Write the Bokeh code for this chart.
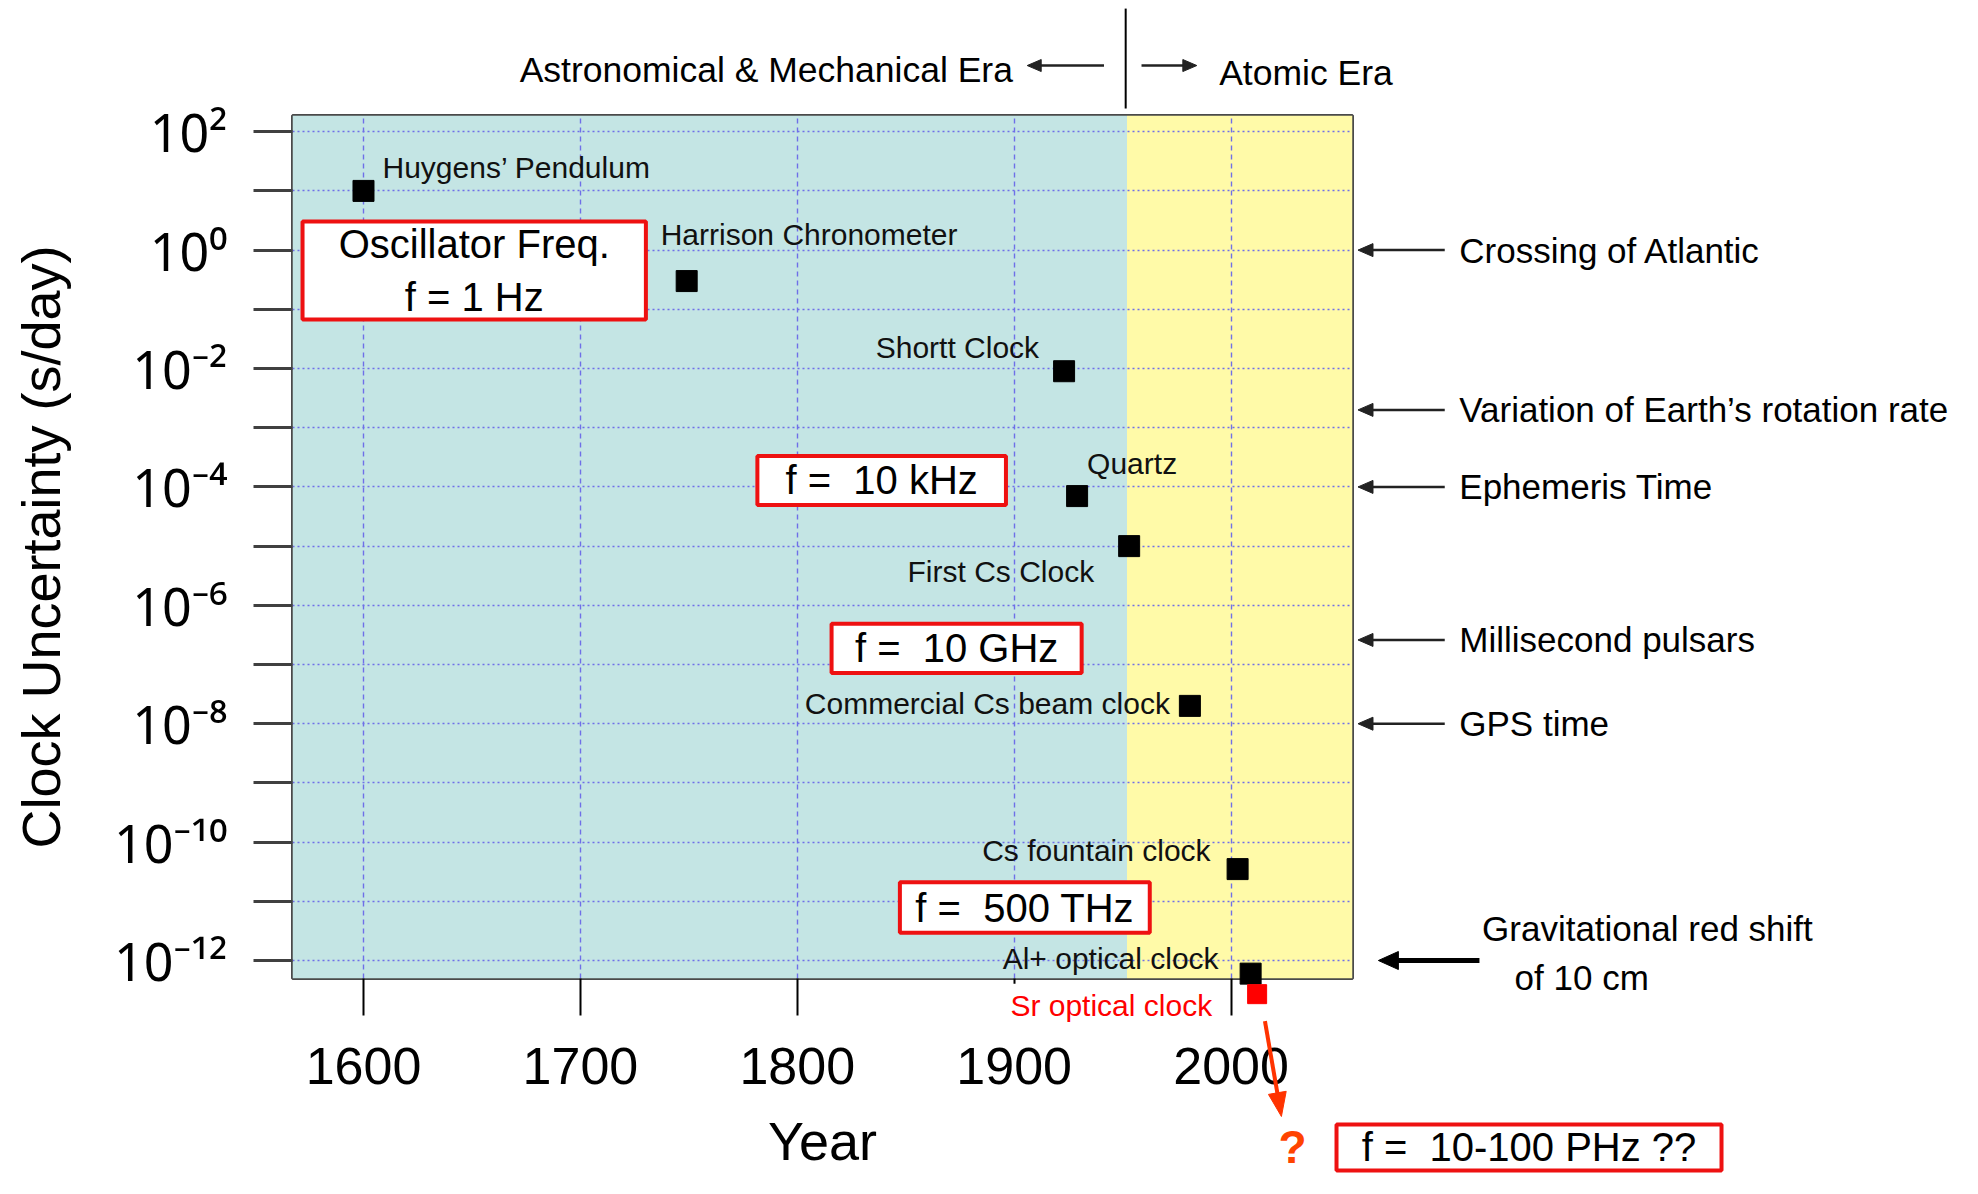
import math
from bokeh.plotting import figure
from bokeh.models import Range1d, FixedTicker, ColumnDataSource
from bokeh.core.properties import value
from bokeh.embed import file_html
from bokeh.resources import INLINE

# ---------------- data ----------------
clock_names = ["Huygens\u2019 Pendulum", "Harrison Chronometer", "Shortt Clock", "Quartz",
               "First Cs Clock", "Commercial Cs beam clock", "Cs fountain clock", "Al+ optical clock"]
clock_years = [1600, 1749, 1923, 1929, 1953, 1981, 2003, 2009]
clock_uncertainty = [10.0, 0.3, 9e-3, 7e-5, 1e-5, 2e-8, 3.5e-11, 6e-13]

sr_name = ["Sr optical clock"]
sr_year = [2012]
sr_uncertainty = [2.7e-13]

era_names = ["Astronomical & Mechanical Era", "Atomic Era"]
era_boundary = 1952

ref_labels = ["Crossing of Atlantic", "Variation of Earth\u2019s rotation rate", "Ephemeris Time",
              "Millisecond pulsars", "GPS time"]
ref_values = [1.0, 2e-3, 1e-4, 2.6e-7, 1e-8]
grav_lines = ["Gravitational red shift", "of 10 cm"]
grav_value = 1e-12

freq_labels = ["Oscillator Freq.\nf = 1 Hz", "f = \u00a010 kHz", "f = \u00a010 GHz",
               "f = \u00a0500 THz", "f = \u00a010-100 PHz ??"]

year_ticks = [1600, 1700, 1800, 1900, 2000]
decade_exponents = list(range(-12, 3))

# ---------------- layout / style ----------------
FONTNAME = "Liberation Sans"
FONT = value(FONTNAME)
lab_dx = [19, -26, -25, 10, -35, -20, -27, -32]
lab_dy = [-23, -47, -24, -33, 25, -2, -19, -15]
lab_align = ["left", "left", "right", "left", "right", "right", "right", "right"]

box_left = [1571.9, 1781.6, 1815.8, 1847.3, 2048.6]
box_right = [1730.2, 1896.2, 1931.1, 1962.5, 2226.1]
box_bottom_exp = [-1.172, -4.307, -7.142, -11.532, -15.547]
box_top_exp = [0.483, -3.476, -6.311, -10.679, -14.770]

x_start, x_end = 1567.27, 2055.97
y_lo_exp, y_hi_exp = -12.304, 2.274
y_start, y_end = 10 ** y_lo_exp, 10 ** y_hi_exp
FRAME_W, FRAME_H = 1060, 863

p = figure(width=1962, height=1178, x_range=Range1d(x_start, x_end),
           y_range=Range1d(y_start, y_end), y_axis_type="log",
           output_backend="svg", toolbar_location=None,
           min_border_left=292, min_border_right=610, min_border_top=115, min_border_bottom=200)
p.background_fill_color = "white"
p.border_fill_color = "white"
p.outline_line_color = "#4a4a4a"
p.outline_line_width = 3

px_per_year = FRAME_W / (x_end - x_start)
px_per_decade = FRAME_H / (y_hi_exp - y_lo_exp)


def draw_arrow(x0, y0, x1, y1, color, width, head_len, head_w):
    """Line from (x0, y0) to (x1, y1) with a filled triangular head at the end."""
    dxp = (x1 - x0) * px_per_year
    dyp = (math.log10(y1) - math.log10(y0)) * px_per_decade
    ln = math.hypot(dxp, dyp)
    ux, uy = dxp / ln, dyp / ln
    nx, ny = -uy, ux

    def to_data(ox, oy):
        return x1 + ox / px_per_year, 10 ** (math.log10(y1) + oy / px_per_decade)

    bx, by = -ux * head_len, -uy * head_len
    corners = [(0.0, 0.0), (bx + nx * head_w / 2, by + ny * head_w / 2),
               (bx - nx * head_w / 2, by - ny * head_w / 2)]
    pts = [to_data(*c) for c in corners]
    sx, sy = to_data(bx * 0.7, by * 0.7)
    p.segment(x0=[x0], y0=[y0], x1=[sx], y1=[sy], line_color=color, line_width=width,
              level="overlay")
    p.patch([q[0] for q in pts], [q[1] for q in pts], fill_color=color, line_color=color,
            line_width=1, level="overlay")


# era backgrounds
p.quad(left=[x_start, era_boundary], right=[era_boundary, x_end], bottom=y_start, top=y_end,
       fill_color=["#c4e5e4", "#fffaa8"], line_color=None, level="image")

# grid
p.xgrid.ticker = FixedTicker(ticks=year_ticks)
p.ygrid.ticker = FixedTicker(ticks=[10.0 ** k for k in decade_exponents])
p.xgrid.grid_line_color = "#6f6fe8"
p.xgrid.grid_line_dash = "5 4"
p.xgrid.grid_line_width = 1.4
p.ygrid.grid_line_color = "#6f6fe8"
p.ygrid.grid_line_dash = "2 3"
p.ygrid.grid_line_width = 1.4

# x axis
xa = p.xaxis[0]
xa.ticker = FixedTicker(ticks=year_ticks)
xa.major_tick_out = 37
xa.major_tick_in = 0
xa.minor_tick_out = 0
xa.minor_tick_in = 0
xa.major_tick_line_color = "black"
xa.major_tick_line_width = 2
xa.axis_line_color = None
xa.major_label_text_font = FONTNAME
xa.major_label_text_font_size = "52px"
xa.major_label_text_color = "black"
xa.major_label_standoff = 32
xa.axis_label = "Year"
xa.axis_label_text_font = FONTNAME
xa.axis_label_text_font_size = "54px"
xa.axis_label_text_font_style = "normal"
xa.axis_label_text_color = "black"
xa.axis_label_standoff = 24

# y axis
sup = str.maketrans("0123456789-", "\u2070\u00b9\u00b2\u00b3\u2074\u2075\u2076\u2077\u2078\u2079\u207b")
ya = p.yaxis[0]
ya.ticker = FixedTicker(ticks=[10.0 ** k for k in decade_exponents])
ya.major_label_overrides = {10.0 ** k: ("10" + str(k).translate(sup) if k % 2 == 0 else "")
                            for k in decade_exponents}
ya.major_tick_out = 39
ya.major_tick_in = 0
ya.minor_tick_out = 0
ya.minor_tick_in = 0
ya.major_tick_line_color = "#404040"
ya.major_tick_line_width = 3
ya.axis_line_color = None
ya.major_label_text_font = "Noto Sans"
ya.major_label_text_font_size = "52px"
ya.major_label_text_color = "black"
ya.major_label_standoff = 26
ya.axis_label = "Clock Uncertainty (s/day)"
ya.axis_label_text_font = FONTNAME
ya.axis_label_text_font_size = "54px"
ya.axis_label_text_font_style = "normal"
ya.axis_label_text_color = "black"
ya.axis_label_standoff = 40

# clocks
src = ColumnDataSource(dict(x=clock_years, y=clock_uncertainty, name=clock_names,
                            dx=lab_dx, dy=lab_dy, align=lab_align))
p.scatter("x", "y", source=src, marker="square", size=21, fill_color="black", line_color="black",
          level="overlay")
p.text("x", "y", text="name", source=src, x_offset="dx", y_offset="dy", text_align="align",
       text_baseline="middle", text_font=FONT, text_font_size="30px", text_color="#111111",
       level="overlay")

p.text(sr_year, sr_uncertainty, text=sr_name, x_offset=-40, y_offset=11, text_align="right",
       text_baseline="middle", text_font=FONT, text_font_size="30px", text_color="red",
       background_fill_color="white", padding=5, level="overlay")
p.scatter(sr_year, sr_uncertainty, marker="square", size=19, fill_color="red", line_color="red",
          level="overlay")

# frequency boxes
box_bottom = [10 ** e for e in box_bottom_exp]
box_top = [10 ** e for e in box_top_exp]
box_cx = [(a + b) / 2 for a, b in zip(box_left, box_right)]
box_cy = [10 ** ((a + b) / 2) for a, b in zip(box_bottom_exp, box_top_exp)]
p.quad(left=box_left, right=box_right, bottom=box_bottom, top=box_top, fill_color="white",
       line_color="#ee1111", line_width=4, level="overlay")
p.text(box_cx, box_cy, text=freq_labels, text_align="center", text_baseline="middle",
       text_font=FONT, text_font_size="40px", text_color="black", text_line_height=1.2,
       level="overlay")

# era header
p.text([1899.4], [10 ** 3.04], text=[era_names[0]], text_align="right", text_baseline="middle",
       text_font=FONT, text_font_size="35.5px", text_color="black", level="overlay")
p.text([1994.5], [10 ** 2.99], text=[era_names[1]], text_align="left", text_baseline="middle",
       text_font=FONT, text_font_size="35.5px", text_color="black", level="overlay")
p.segment(x0=[era_boundary - 0.6], y0=[10 ** 2.392], x1=[era_boundary - 0.6], y1=[10 ** 4.08],
          line_color="black", line_width=2, level="overlay")
draw_arrow(1941.4, 10 ** 3.118, 1906.0, 10 ** 3.118, "#222222", 2.5, 14, 12)
draw_arrow(1958.7, 10 ** 3.118, 1984.2, 10 ** 3.118, "#222222", 2.5, 14, 12)

# right-hand reference levels
for v in ref_values:
    draw_arrow(2098.5, v, 2058.5, v, "#222222", 2.5, 15, 13)
p.text([2105.2] * len(ref_labels), ref_values, text=ref_labels, text_align="left",
       text_baseline="middle", text_font=FONT, text_font_size="35px", text_color="black",
       level="overlay")

draw_arrow(2114.5, grav_value, 2067.9, grav_value, "black", 5, 20, 18)
p.text([2115.7, 2130.7], [10 ** -11.459, 10 ** -12.282], text=grav_lines, text_align="left",
       text_baseline="middle", text_font=FONT, text_font_size="35px", text_color="black",
       level="overlay")

# the future: question mark
draw_arrow(2015.6, 10 ** -13.025, 2023.2, 10 ** -14.635, "#ff3300", 4, 24, 18)
p.text([2028.3], [10 ** -15.142], text=["?"], text_align="center", text_baseline="middle",
       text_font=FONT, text_font_size="46px", text_font_style="bold", text_color="#ff4400",
       level="overlay")

open("out.html", "w").write(file_html(p, INLINE))
